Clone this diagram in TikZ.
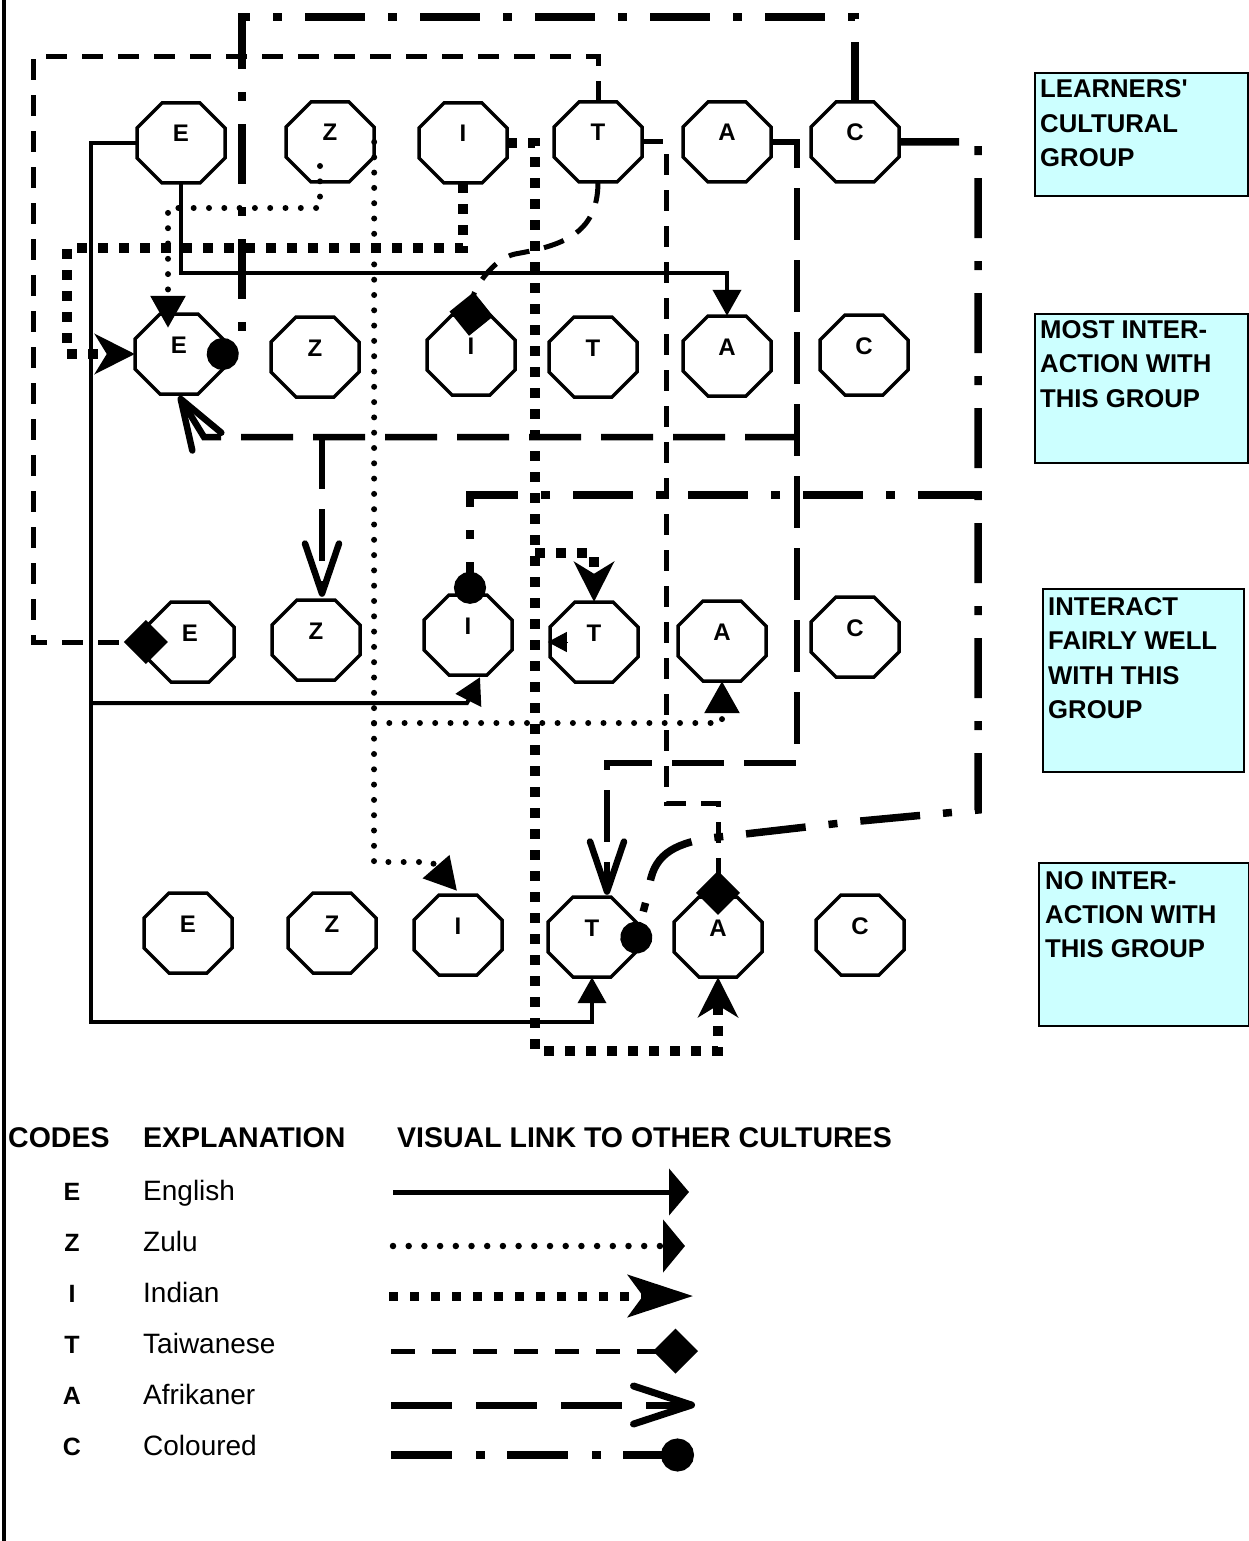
\documentclass[tikz,border=0pt]{standalone}
\usepackage{fontspec}
\setmainfont{Liberation Sans}
\newfontfamily\boxfont{Liberation Sans}
\usetikzlibrary{arrows.meta,calc}
\definecolor{boxcyan}{HTML}{CCFFFF}
\newcommand\octnode[4]{%
  \node[octbox] (#1) at (#2,#3) {#4};
  \draw[octline,shift={(#2,#3)}] (-44,-15) -- (-44,15) -- (-19,40) -- (19,40) -- (44,15) -- (44,-15) -- (19,-40) -- (-19,-40) -- cycle;
}
\begin{document}
\begin{tikzpicture}[x=1pt,y=-1pt,
  octline/.style={line width=3.5pt},
  octbox/.style={rectangle,minimum width=88pt,minimum height=80pt,inner sep=0pt,font=\fontsize{24}{24}\selectfont\bfseries,text height=17pt,text depth=19pt},
  eng/.style={line width=4pt},
  zul/.style={line width=6pt,line cap=round,dash pattern=on 0pt off 15.3pt},
  ind/.style={line width=10pt,dash pattern=on 10pt off 11pt},
  tai/.style={line width=5pt,dash pattern=on 21pt off 15pt},
  afr/.style={line width=6.5pt,dash pattern=on 52pt off 20pt},
  col/.style={line width=7.5pt,dash pattern=on 60pt off 23pt on 9pt off 23pt},
  engtip/.style={-{Triangle[length=26pt,width=28pt]}},
  zultip/.style={-{Triangle[length=32pt,width=34pt]}},
  indtip/.style={-{Stealth[length=40pt,width=40pt,inset=12pt]}},
  taitip/.style={-{Diamond[length=44pt,width=44pt]}},
  afrtip/.style={-{Straight Barb[length=50pt,width=34pt,round]}},
  coltip/.style={-{Circle[length=32pt,width=32pt]}},
  infobox/.style={draw,line width=1.8pt,fill=boxcyan,inner sep=0pt,anchor=north west},
  boxtext/.style={anchor=base west,inner sep=0pt,font=\boxfont\fontsize{25.7}{30}\selectfont\bfseries},
  head/.style={anchor=base west,inner sep=0pt,font=\fontsize{28.5}{30}\selectfont\bfseries},
  codetxt/.style={anchor=base,inner sep=0pt,font=\fontsize{25}{26}\selectfont\bfseries},
  expl/.style={anchor=base west,inner sep=0pt,font=\fontsize{28}{30}\selectfont},
]
\useasboundingbox (0,0) rectangle (1249,1541);
% left border
\draw[line width=4pt] (4,0) -- (4,1541);

% octagons
\octnode{e1}{181}{143}{E}
\octnode{z1}{330}{142}{Z}
\octnode{i1}{463}{143}{I}
\octnode{t1}{598}{142}{T}
\octnode{a1}{727}{142}{A}
\octnode{c1}{855}{142}{C}
\octnode{e2}{179}{354}{E}
\octnode{z2}{315}{357}{Z}
\octnode{i2}{471}{355}{I}
\octnode{t2}{593}{357}{T}
\octnode{a2}{727}{356}{A}
\octnode{c2}{864}{355}{C}
\octnode{e3}{190}{642}{E}
\octnode{z3}{316}{640}{Z}
\octnode{i3}{468}{635}{I}
\octnode{t3}{594}{642}{T}
\octnode{a3}{722}{641}{A}
\octnode{c3}{855}{637}{C}
\octnode{e4}{188}{933}{E}
\octnode{z4}{332}{933}{Z}
\octnode{i4}{458}{935}{I}
\octnode{t4}{592}{937}{T}
\octnode{a4}{718}{937}{A}
\octnode{c4}{860}{935}{C}

% English (solid)
\draw[eng,engtip] (e1.south) |- (727,273) -- (a2.north);
\draw[eng,engtip] (e1.west) -- (91,143) -- (91,1022) -| (t4.south);
\draw[eng,engtip] (91,703) -- (467,703) -- ([xshift=12pt,yshift=-2pt]i3.south);

% Zulu (dotted)
\coordinate (zs) at ([xshift=-10pt,yshift=-24pt]z1.center);
\draw[zul,zultip] (zs) |- (168,208) -- ([xshift=-11pt,yshift=-14pt]e2.north);
\draw[zul,zultip] (z1.east) -- (374,862) -- (432,862) -- ([xshift=-1pt,yshift=4pt]i4.north);
\draw[zul,zultip] (374,723) -| (a3.south);

% Indian (square dots)
\draw[ind,indtip] (i1.south) |- (67,248) |- (e2.west);
\draw[ind,indtip] (i1.east) -- (535,143) -- (535,1051) -| (a4.south);
\draw[ind,indtip] (535,553) -| (t3.north);
\draw[line width=1pt,-{Triangle[length=19pt,width=20pt]}] ([xshift=17pt]t3.west) -- ([xshift=-2pt]t3.west);

% Taiwanese (dashed)
\draw[tai,taitip] (t1.north) |- (33,57) |- ([xshift=22pt]e3.west);
\draw[tai,taitip] (t1.east) -- (666,142) -- (666,803) -| ([yshift=-18pt]a4.north);
\draw[tai,taitip] (t1.south) .. controls (598,235) and (560,246) .. (515,254) .. controls (492,259) and (474,290) .. ([xshift=-2pt,yshift=-21pt]i2.north);

% Afrikaner (long dashes)
\draw[afr,afrtip] (a1.east) -| (797,763) -| ([xshift=15pt,yshift=2pt]t4.north);
\draw[afr,afrtip] (797,437) -- (204,437) -- ([yshift=-2pt]e2.south);
\draw[afr,afrtip] (322,437) -- ([xshift=6pt,yshift=3pt]z3.north);

% Coloured (dash-dot)
\draw[col,coltip] (c1.north) |- (242,17) -- (242,332) -- ([xshift=-11pt,yshift=-12pt]e2.east);
\draw[col,coltip] (c1.east) -| (978,495) -- (978,810) -- (850,822) -- (710,838) .. controls (672,844) and (652,856) .. (649,890) -- ([xshift=-4pt,yshift=-16pt]t4.east);
\draw[col,coltip] (978,495) -| ([xshift=2pt,yshift=-9pt]i3.north);

% right info boxes
\node[infobox,minimum width=213pt,minimum height=123pt] (b1) at (1034,72) {};
\node[boxtext] (b1a) at (1040,98) {LEARNERS'};
\node[boxtext] (b1b) at (1040,132.5) {CULTURAL};
\node[boxtext] (b1c) at (1040,167) {GROUP};
\node[infobox,minimum width=213pt,minimum height=149pt] (b2) at (1034,313) {};
\node[boxtext] (b2a) at (1040,338) {MOST INTER-};
\node[boxtext] (b2b) at (1040,372.5) {ACTION WITH};
\node[boxtext] (b2c) at (1040,407) {THIS GROUP};
\node[infobox,minimum width=201pt,minimum height=183pt] (b3) at (1042,588) {};
\node[boxtext] (b3a) at (1048,615) {INTERACT};
\node[boxtext] (b3b) at (1048,649.5) {FAIRLY WELL};
\node[boxtext] (b3c) at (1048,684) {WITH THIS};
\node[boxtext] (b3d) at (1048,718.5) {GROUP};
\node[infobox,minimum width=210pt,minimum height=163pt] (b4) at (1038,862) {};
\node[boxtext] (b4a) at (1045,889) {NO INTER-};
\node[boxtext] (b4b) at (1045,923) {ACTION WITH};
\node[boxtext] (b4c) at (1045,957) {THIS GROUP};

% legend
\node[head] (hcodes) at (8,1147) {CODES};
\node[head] (hexpl) at (143,1147) {EXPLANATION};
\node[head] (hvis) at (397,1147) {VISUAL LINK TO OTHER CULTURES};

\node[codetxt] (ce) at (72,1200) {E};
\node[codetxt] (cz) at (72,1251) {Z};
\node[codetxt] (ci) at (72,1302) {I};
\node[codetxt] (ct) at (72,1353) {T};
\node[codetxt] (ca) at (72,1404) {A};
\node[codetxt] (cc) at (72,1455) {C};
\node[expl] (xe) at (143,1200) {English};
\node[expl] (xz) at (143,1251) {Zulu};
\node[expl] (xi) at (143,1302) {Indian};
\node[expl] (xt) at (143,1353) {Taiwanese};
\node[expl] (xa) at (143,1404) {Afrikaner};
\node[expl] (xc) at (143,1455) {Coloured};

\coordinate (l1a) at (393,1192); \coordinate (l1b) at (689,1192);
\coordinate (l2a) at (393,1246); \coordinate (l2b) at (685,1246);
\coordinate (l3a) at (389,1296); \coordinate (l3b) at (693,1296);
\coordinate (l4a) at (391,1351); \coordinate (l4b) at (698,1351);
\coordinate (l5a) at (391,1405); \coordinate (l5b) at (695,1405);
\coordinate (l6a) at (391,1455); \coordinate (l6b) at (694,1455);
\draw[eng,line width=5pt,-{Triangle[length=20pt,width=46pt]}] (l1a) -- (l1b);
\draw[zul,line width=6.5pt,dash pattern=on 0pt off 15.7pt,-{Triangle[length=22pt,width=52pt]}] (l2a) -- (l2b);
\draw[ind,line width=9pt,dash pattern=on 9pt off 12pt,-{Stealth[length=65pt,width=42pt,inset=15pt]}] (l3a) -- (l3b);
\draw[tai,dash pattern=on 24pt off 17pt,-{Diamond[length=45pt,width=45pt]}] (l4a) -- (l4b);
\draw[afr,line width=7pt,dash pattern=on 61pt off 24pt,-{Straight Barb[length=58pt,width=38pt,round]}] (l5a) -- (l5b);
\draw[col,line width=8pt,dash pattern=on 61pt off 24pt on 9pt off 22pt,-{Circle[length=33pt,width=33pt]}] (l6a) -- (l6b);
\end{tikzpicture}
\end{document}
